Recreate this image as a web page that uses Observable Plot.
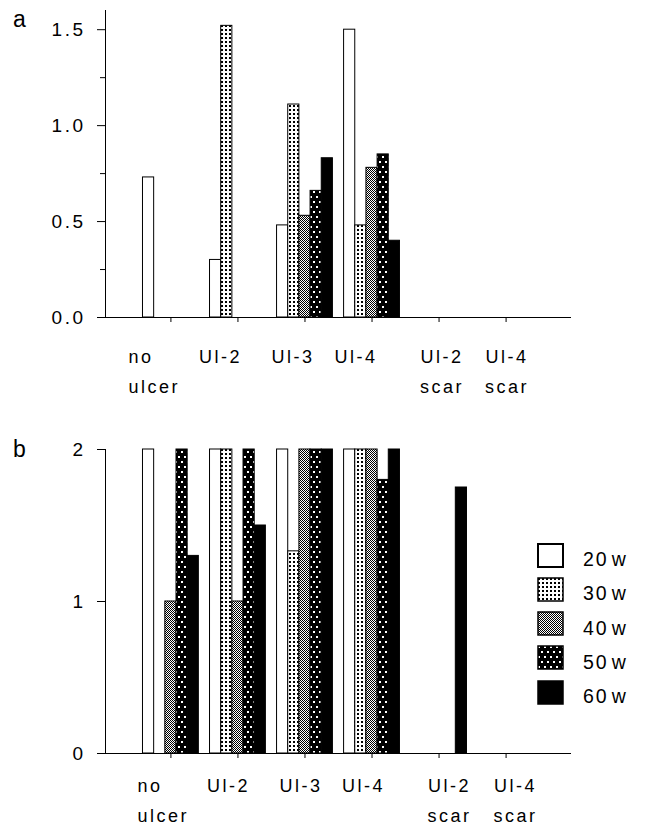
<!DOCTYPE html>
<html><head><meta charset="utf-8">
<script src="https://cdn.jsdelivr.net/npm/d3@7"></script>
<script src="https://cdn.jsdelivr.net/npm/@observablehq/plot@0.6"></script>
<style>
body{margin:0;background:#fff;}
#wrap{position:relative;width:645px;height:826px;overflow:hidden;font-family:"Liberation Sans",Arial,Helvetica,sans-serif;color:#000;background:#fff;}
.panel{position:absolute;left:0;}
.tag{position:absolute;left:13px;font-size:23px;line-height:23px;}
.leg-sw{position:absolute;left:537px;}
.leg-tx{position:absolute;left:583px;font-size:19.5px;line-height:19.5px;letter-spacing:2px;white-space:nowrap;}
</style></head>
<body><div id="wrap">
<svg width="0" height="0" style="position:absolute"><defs>
<pattern id="p30" width="4" height="4" patternUnits="userSpaceOnUse"><rect width="4" height="4" fill="#fff"/><rect x="1" y="1" width="2" height="2" fill="#000"/></pattern>
<pattern id="p40" width="2" height="2" patternUnits="userSpaceOnUse"><rect width="2" height="2" fill="#fff"/><rect x="0" y="0" width="1" height="1" fill="#000"/><rect x="1" y="1" width="1" height="1" fill="#000"/></pattern>
<pattern id="p50" width="6" height="10" patternUnits="userSpaceOnUse"><rect width="6" height="10" fill="#000"/><rect x="1" y="1" width="2" height="2" fill="#fff"/><rect x="4" y="6" width="2" height="2" fill="#fff"/></pattern>
</defs></svg>
<div class="tag" style="top:7.5px">a</div>
<div class="tag" style="top:437.5px">b</div>
</div>
<script>
// ---- data ----
const categories = ["no ulcer", "Ul-2", "Ul-3", "Ul-4", "Ul-2 scar", "Ul-4 scar"];
const tickLabels = ["no\nulcer", "Ul-2", "Ul-3", "Ul-4", "Ul-2\nscar", "Ul-4\nscar"];
const weeks = ["20w", "30w", "40w", "50w", "60w"];

// panel a values, one array per week (across categories)
const a20w = [0.73, 0.30, 0.48, 1.50, 0, 0];
const a30w = [0, 1.52, 1.11, 0.48, 0, 0];
const a40w = [0, 0, 0.53, 0.78, 0, 0];
const a50w = [0, 0, 0.66, 0.85, 0, 0];
const a60w = [0, 0, 0.83, 0.40, 0, 0];

// panel b values
const b20w = [2, 2, 2, 2, 0, 0];
const b30w = [0, 2, 1.33, 2, 0, 0];
const b40w = [1, 1, 2, 2, 0, 0];
const b50w = [2, 2, 2, 1.8, 0, 0];
const b60w = [1.3, 1.5, 2, 2, 1.75, 0];

const aTicks = [0, 0.5, 1.0, 1.5];
const aMinorTicks = [0.25, 0.75, 1.25];
const bTicks = [0, 1, 2];

// ---- styling ----
const fills = ["#fff", "url(#p30)", "url(#p40)", "url(#p50)", "#000"];
const aLabelDx = [-42.5, -17.5, -12, -16, 3, 1];
const bLabelDx = [-33.5, -9.5, -4, -8.5, 10.5, 9.5];

const keyOf = (c, w) => c + "|" + w;
const xDomain = [];
categories.forEach((c, i) => {
  weeks.forEach(w => xDomain.push(keyOf(c, w)));
  if (i < categories.length - 1) xDomain.push("gap" + i);
});
const centers = categories.map(c => keyOf(c, weeks[2]));

function table(series) {
  const rows = [];
  categories.forEach((c, i) => weeks.forEach((w, j) =>
    rows.push({key: keyOf(c, w), cat: c, week: w, value: series[j][i]})));
  return rows;
}

function panel({series, yMax, ticks, minor, fmt, height, marginTop, marginBottom, labelDx, labelDy}) {
  const rows = table(series).filter(d => d.value > 0);
  const marks = [
    Plot.barY(rows, {x: "key", y: "value", fill: "week", stroke: "#000", strokeWidth: 1}),
    Plot.ruleY([0], {stroke: "#000"}),
    Plot.frame({anchor: "left", stroke: "#000"}),
    Plot.axisY({ticks, tickSize: 8, tickPadding: 12, tickFormat: fmt, fontSize: 19, label: null}),
    Plot.axisX({ticks: centers, tickSize: 5, tickFormat: () => "", label: null}),
    ...categories.map((c, i) => Plot.text([{k: centers[i], t: tickLabels[i]}], {
      x: "k", text: "t", frameAnchor: "bottom", dy: labelDy, dx: labelDx[i],
      textAnchor: i === 0 ? "start" : "middle", lineAnchor: "top", lineHeight: 1.667,
      fontSize: 18, fill: "#000"
    }))
  ];
  if (minor) marks.push(Plot.axisY({ticks: minor, tickSize: 5, tickFormat: () => "", label: null}));
  return Plot.plot({
    width: 645, height, marginTop, marginBottom, marginLeft: 105, marginRight: 74,
    x: {domain: xDomain, paddingInner: 0, paddingOuter: 3.355, align: 0.5, round: false},
    y: {domain: [0, yMax]},
    color: {domain: weeks, range: fills},
    style: {fontFamily: "'Liberation Sans', Arial, Helvetica, sans-serif", color: "#000", background: "transparent", letterSpacing: "2.5px", overflow: "visible"},
    marks
  });
}

const wrap = document.getElementById("wrap");
const pa = panel({series: [a20w, a30w, a40w, a50w, a60w], yMax: 1.6, ticks: aTicks, minor: aMinorTicks,
  fmt: d3.format(".1f"), height: 400, marginTop: 10, marginBottom: 83, labelDx: aLabelDx, labelDy: 24});
pa.classList.add("panel"); pa.style.top = "0px";
wrap.appendChild(pa);

const pb = panel({series: [b20w, b30w, b40w, b50w, b60w], yMax: 2, ticks: bTicks, minor: null,
  fmt: d3.format("d"), height: 426, marginTop: 49, marginBottom: 73, labelDx: bLabelDx, labelDy: 17});
pb.classList.add("panel"); pb.style.top = "400px";
wrap.appendChild(pb);

// legend
weeks.forEach((w, i) => {
  const top = 543 + 34.15 * i;
  const ns = "http://www.w3.org/2000/svg";
  const sw = document.createElementNS(ns, "svg");
  sw.setAttribute("width", 27); sw.setAttribute("height", 25);
  sw.setAttribute("class", "leg-sw");
  sw.style.top = top + "px";
  const r = document.createElementNS(ns, "rect");
  r.setAttribute("x", 1); r.setAttribute("y", 1); r.setAttribute("width", 25); r.setAttribute("height", 23);
  r.setAttribute("fill", fills[i]); r.setAttribute("stroke", "#000");
  r.setAttribute("stroke-width", i === 0 ? 2 : 1.5);
  sw.appendChild(r);
  wrap.appendChild(sw);
  const tx = document.createElement("div");
  tx.className = "leg-tx";
  tx.style.top = (top + 7.2) + "px";
  tx.innerHTML = w.slice(0, -1) + '<span style="margin-left:3px">' + w.slice(-1) + "</span>";
  wrap.appendChild(tx);
});
</script>
</body></html>
